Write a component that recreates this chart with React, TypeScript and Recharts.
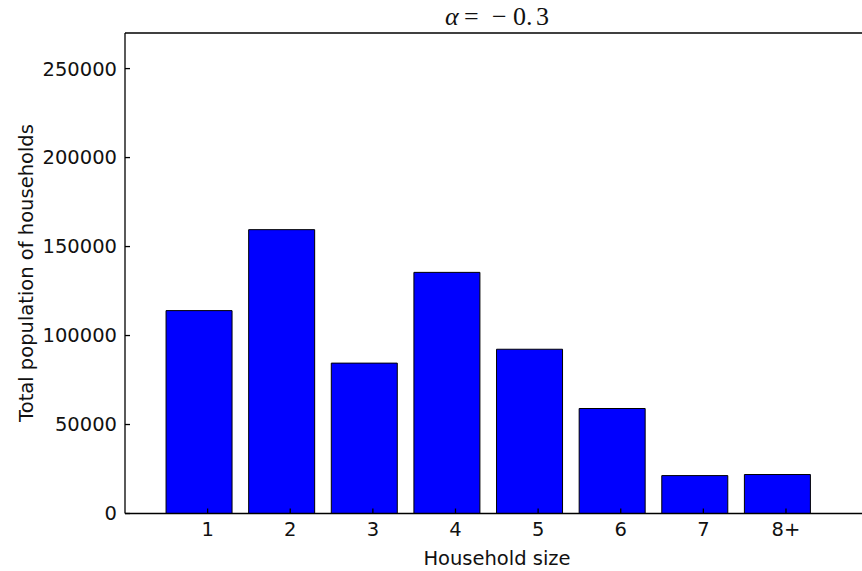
import { BarChart, Bar, XAxis, YAxis } from "recharts";

const categories = ["1", "2", "3", "4", "5", "6", "7", "8+"];
const households = [114000, 159500, 84500, 135500, 92300, 59000, 21300, 21900];
const barLefts = [0.5, 1.5, 2.5, 3.5, 4.5, 5.5, 6.5, 7.5];
const barWidth = 0.8;
const yTicks = [0, 50000, 100000, 150000, 200000, 250000];
const xTicks = [1, 2, 3, 4, 5, 6, 7, 8];

// bars sit on their left edge (matplotlib align="edge"), ticks at integers
const data = categories.map((label, i) => ({
  pos: barLefts[i] + barWidth / 2,
  label,
  value: households[i],
}));

const tickFont = { fontFamily: "DejaVu Sans", fontSize: 19.5, fill: "#111" };

const renderTitle = () => (
  <text y={25} fontFamily="Liberation Serif" fontSize={26} fill="#111">
    <tspan x={445} fontStyle="italic">α</tspan>
    <tspan x={464}>=</tspan>
    <tspan x={492}>−</tspan>
    <tspan x={513}>0.</tspan>
    <tspan x={536}>3</tspan>
  </text>
);

const renderYLabel = () => (
  <text
    x={33}
    y={273}
    transform="rotate(-90 33 273)"
    textAnchor="middle"
    fontFamily="DejaVu Sans"
    fontSize={19.5}
    fill="#111"
  >
    Total population of households
  </text>
);

const renderXLabel = () => (
  <text
    x={497}
    y={565}
    textAnchor="middle"
    fontFamily="DejaVu Sans"
    fontSize={19.5}
    fill="#111"
  >
    Household size
  </text>
);

export default function App() {
  return (
    <div
      style={{
        position: "absolute",
        left: 0,
        top: 0,
        width: 862,
        height: 571,
        overflow: "hidden",
        background: "#fff",
      }}
    >
      <BarChart
        width={880}
        height={571}
        data={data}
        margin={{ top: 32, right: 11.4, left: 0, bottom: 0 }}
      >
        <XAxis
          xAxisId="top"
          orientation="top"
          dataKey="pos"
          type="number"
          domain={[0, 9]}
          ticks={xTicks}
          height={1}
          tick={false}
          tickSize={-5}
          stroke="#000"
          strokeWidth={1.3}
          label={renderTitle}
        />
        <XAxis
          xAxisId="bottom"
          dataKey="pos"
          type="number"
          domain={[0, 9]}
          ticks={xTicks}
          tickFormatter={(v: number) => categories[v - 1]}
          height={57.5}
          tickSize={-5}
          tickMargin={14}
          tick={tickFont}
          stroke="#000"
          strokeWidth={1.3}
          label={renderXLabel}
        />
        <YAxis
          domain={[0, 270000]}
          ticks={yTicks}
          width={125}
          tickSize={-5}
          tickMargin={13}
          tick={tickFont}
          stroke="#000"
          strokeWidth={1.3}
          allowDataOverflow
          label={renderYLabel}
        />
        <Bar
          xAxisId="bottom"
          dataKey="value"
          barSize={66}
          fill="#0000ff"
          stroke="#000"
          strokeWidth={1}
          isAnimationActive={false}
        />
      </BarChart>
    </div>
  );
}
